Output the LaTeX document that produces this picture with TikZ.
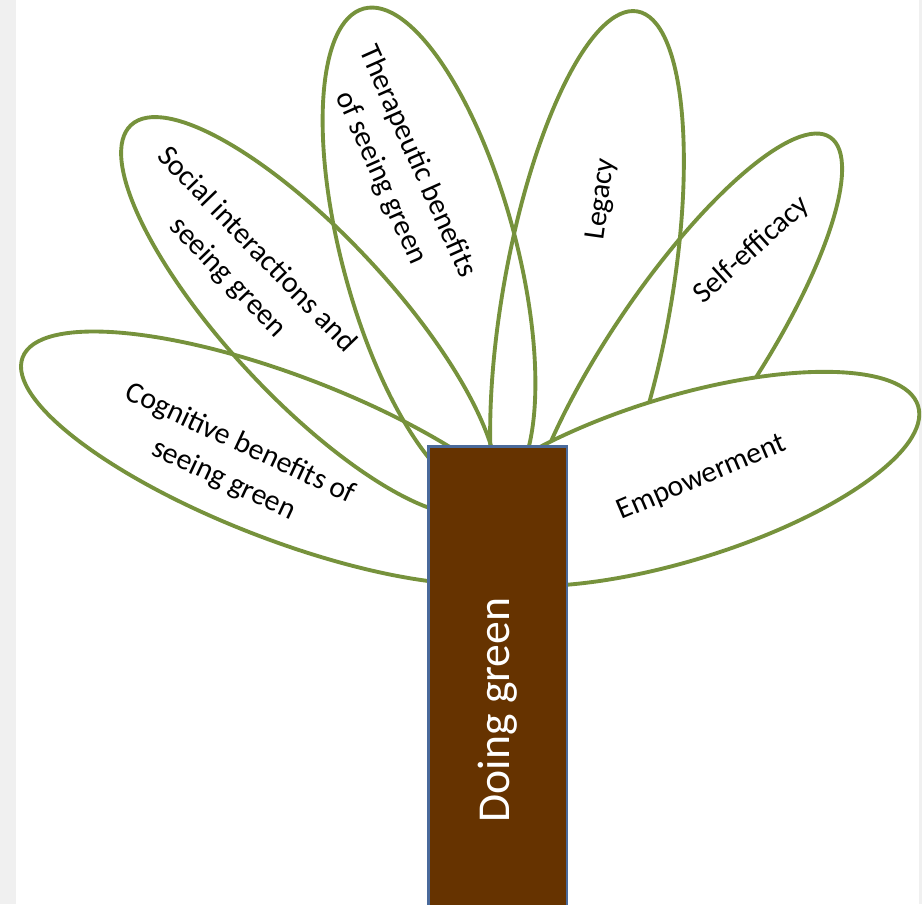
\documentclass[tikz,border=0pt]{standalone}
\usepackage{fontspec}
\setmainfont{Carlito}
\definecolor{leafgreen}{HTML}{76923C}
\definecolor{barkbrown}{HTML}{663300}
\definecolor{barkedge}{HTML}{4A6A9B}
\definecolor{sidegray}{HTML}{F0F0F0}
\begin{document}
\begin{tikzpicture}[x=0.02cm,y=-0.02cm,
		petal/.style={draw=leafgreen,line width=2.2pt},
		petaltext/.style={align=center,inner sep=0pt,font=\fontsize{17}{22.7}\selectfont},
		trunk/.style={draw=barkedge,line width=1.7pt,fill=barkbrown,text=white,rotate=90,
			minimum width=10.56cm,minimum height=2.78cm,inner sep=0pt,font=\fontsize{26}{31}\selectfont}]
				\useasboundingbox (0,0) rectangle (922,904);
				\clip (0,0) rectangle (922,904);
				\fill[sidegray] (0,0) rectangle (16,904);
				\fill[sidegray] (919,0) rectangle (922,904);
				\draw[petal,rotate around={-21:(285,458)}] (285,458) ellipse (281 and 82);
				\draw[petal,rotate around={-47:(309,316)}] (309,316) ellipse (261 and 82);
				\draw[petal,rotate around={-75:(429,252)}] (429,252) ellipse (252 and 87);
				\draw[petal,rotate around={-100:(587,297)}] (587,297) ellipse (290 and 84);
				\draw[petal,rotate around={-124:(682,357)}] (682,357) ellipse (265 and 73);
				\draw[petal,fill=white,rotate around={17:(679,479)}] (679,479) ellipse (250 and 82);
				\node[trunk] (trunk) at (497.5,710) {Doing green};
				\node[petaltext,rotate=-25] (cognitive) at (232,462) {Cognitive benefits of\\seeing green};
				\node[petaltext,rotate=-46] (social) at (242,264) {Social interactions and\\seeing green};
				\node[petaltext,rotate=-66] (therapeutic) at (399,170) {Therapeutic benefits\\of seeing green};
				\node[petaltext,rotate=82] (legacy) at (602,199) {Legacy};
				\node[petaltext,rotate=42] (efficacy) at (752,250) {Self-efficacy};
				\node[petaltext,rotate=23] (empower) at (702,478) {Empowerment};
\end{tikzpicture}
\end{document}
